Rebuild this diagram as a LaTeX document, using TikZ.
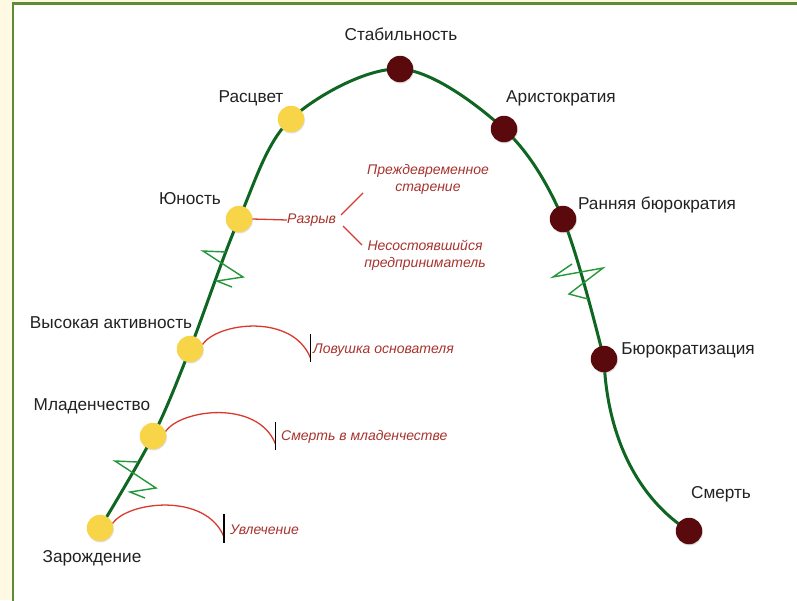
\documentclass[tikz,border=0pt]{standalone}
\usepackage{fontspec}
\setmainfont{Liberation Sans}
\usetikzlibrary{shadows}
\definecolor{cream}{HTML}{FFF8E3}
\definecolor{framegreen}{HTML}{5E8C35}
\definecolor{curvegreen}{HTML}{0E6622}
\definecolor{ziggreen}{HTML}{23973A}
\definecolor{dotyellow}{HTML}{F8D548}
\definecolor{dotred}{HTML}{5A0A0C}
\definecolor{arcred}{HTML}{D93A2E}
\definecolor{txtred}{HTML}{A8332E}
\definecolor{txtgray}{HTML}{222222}
\begin{document}
\begin{tikzpicture}[x=1pt,y=-1pt,
  dotbase/.style={circle, inner sep=0pt, minimum size=26.5pt,
    drop shadow={opacity=0.25, shadow xshift=0.6pt, shadow yshift=-1.2pt}},
  ydot/.style={dotbase, fill=dotyellow},
  rdot/.style={dotbase, fill=dotred},
  lbl/.style={text=txtgray, font=\fontsize{17.2}{20}\selectfont, inner sep=0pt},
  rlbl/.style={text=txtred, font=\fontsize{14}{17}\selectfont\itshape, inner sep=0pt, align=center},
  mainline/.style={curvegreen, line width=3pt},
  zig/.style={ziggreen, line width=1.4pt, line join=miter},
  redline/.style={arcred, line width=1.3pt},
  barline/.style={black, line width=1.3pt}]
\useasboundingbox (0,0) rectangle (797,600);
\fill[cream] (0,0) rectangle (797,600);
\fill[white] (13,3.5) rectangle (800,603);
\draw[framegreen, line width=2.6pt] (13,603) -- (13,3.5) -- (800,3.5);

% stage points
\coordinate (pz) at (100,528);
\coordinate (pm) at (153,436);
\coordinate (pv) at (190,349);
\coordinate (pyu) at (239,219);
\coordinate (pr) at (291,119);
\coordinate (ps) at (400,69);
\coordinate (pa) at (504,129);
\coordinate (prb) at (563,219);
\coordinate (pb) at (604,359);
\coordinate (pd) at (689,531);

\draw[mainline] plot[smooth, tension=0.55] coordinates {(pz) (pm) (pv) (pyu) (pr) (ps) (pa) (prb) (pb)}
  .. controls (607,440) and (640,500) .. (pd);

% break marks
\draw[zig] (138,462) -- (115,461) -- (156,488) -- (130,492) -- (145,498);
\draw[zig] (226,252) -- (203,251) -- (243,277) -- (217,281) -- (232,287);
\draw[zig] (572,264) -- (553,277) -- (603,268) -- (569,294) -- (588,299);

% dots
\node[ydot] (z) at (pz) {};
\node[ydot] (m) at (pm) {};
\node[ydot] (v) at (pv) {};
\node[ydot] (yu) at (pyu) {};
\node[ydot] (r) at (pr) {};
\node[rdot] (s) at (ps) {};
\node[rdot] (a) at (pa) {};
\node[rdot] (rb) at (prb) {};
\node[rdot] (b) at (pb) {};
\node[rdot] (d) at (pd) {};

% labels
\node[lbl] (lz) at (92,558) {Зарождение};
\node[lbl] (lm) at (92,406) {Младенчество};
\node[lbl] (lv) at (111,323) {Высокая активность};
\node[lbl] (lyu) at (190,199) {Юность};
\node[lbl] (lr) at (251,98) {Расцвет};
\node[lbl] (ls) at (401,34) {Стабильность};
\node[lbl] (la) at (561,98) {Аристократия};
\node[lbl] (lrb) at (657,205) {Ранняя бюрократия};
\node[lbl] (lb) at (688,350) {Бюрократизация};
\node[lbl] (ld) at (721,494) {Смерть};

% traps
\coordinate (e1) at (224,537);
\coordinate (e1t) at (224,514);
\coordinate (e1b) at (224,543);
\draw[redline] (z.20) .. controls +(15,-22) and +(-18,-45) .. (e1);
\draw[barline] (e1t) -- (e1b);
\node[rlbl, anchor=west] (t1) at (230,530) {Увлечение};

\coordinate (e2) at (275.5,444);
\coordinate (e2t) at (275.5,421.5);
\coordinate (e2b) at (275.5,450);
\draw[redline] (m.20) .. controls +(15,-22) and +(-18,-45) .. (e2);
\draw[barline] (e2t) -- (e2b);
\node[rlbl, anchor=west] (t2) at (281,437) {Смерть в младенчестве};

\coordinate (e3) at (310.5,358);
\coordinate (e3t) at (310.5,334);
\coordinate (e3b) at (310.5,362);
\draw[redline] (v.20) .. controls +(15,-22) and +(-18,-45) .. (e3);
\draw[barline] (e3t) -- (e3b);
\node[rlbl, anchor=west] (t3) at (313,350) {Ловушка основателя};

% gap
\node[rlbl, anchor=west] (gap) at (287,220) {Разрыв};
\draw[redline] (yu.east) -- (gap.west);
\node[rlbl] (early) at (428,179) {Преждевременное\\старение};
\node[rlbl] (failed) at (425,255) {Несостоявшийся\\предприниматель};
\coordinate (g1a) at (341,215);
\coordinate (g1b) at (363,193);
\coordinate (g2a) at (343,226);
\coordinate (g2b) at (362,245);
\draw[redline] (g1a) -- (g1b);
\draw[redline] (g2a) -- (g2b);
\end{tikzpicture}
\end{document}
